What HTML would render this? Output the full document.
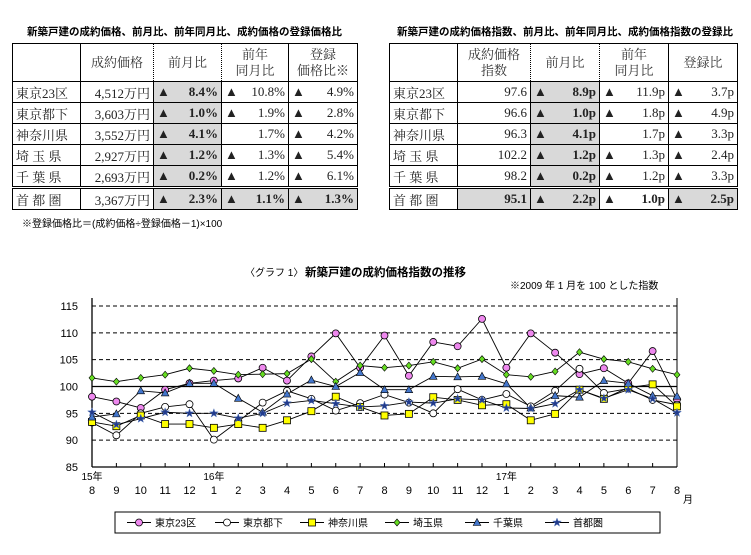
<!DOCTYPE html>
<html><head><meta charset="utf-8"><style>
body{margin:0;width:751px;height:555px;background:#fff;position:relative;overflow:hidden;font-family:"Liberation Serif","Noto Serif CJK SC","Noto Sans CJK JP",serif;}
.ttl{position:absolute;font-family:"Liberation Sans","Noto Sans CJK JP",sans-serif;font-weight:bold;font-size:10.5px;white-space:nowrap;}
table{position:absolute;border-collapse:collapse;table-layout:fixed;font-size:13px;color:#222;}
td{border:1px solid #000;height:20px;padding:0 3px;white-space:nowrap;overflow:hidden;}
tr.h td{height:37px;text-align:center;line-height:16px;color:#333;}
td.n{text-align:right;}
td.g{background:#d9d9d9;}
td.b{font-weight:bold;}
td.dl{border-left:1px dotted #000;}
td.dr{border-right:1px dotted #000;}
tr.tot td{border-top:3px double #000;}
.tri{float:left;}
.foot{position:absolute;left:22px;top:215px;font-size:10px;font-family:"Liberation Sans","Noto Sans CJK JP",sans-serif;}
</style></head><body>
<div class="ttl" style="left:27px;top:24px;">新築戸建の成約価格、前月比、前年同月比、成約価格の登録価格比</div>
<table style="left:12px;top:43px;width:346px;">
<colgroup><col style="width:68px"><col style="width:73px"><col style="width:68px"><col style="width:67px"><col style="width:69px"></colgroup>
<tr class="h"><td></td><td class="dr">成約価格</td><td class="dl dr">前月比</td><td class="dl">前年<br>同月比</td><td>登録<br>価格比※</td></tr>
<tr><td>東京23区</td><td class="n dr">4,512万円</td><td class="n g b dr"><span class="tri">▲</span>8.4%</td><td class="n"><span class="tri">▲</span>10.8%</td><td class="n"><span class="tri">▲</span>4.9%</td></tr>
<tr><td>東京都下</td><td class="n dr">3,603万円</td><td class="n g b dr"><span class="tri">▲</span>1.0%</td><td class="n"><span class="tri">▲</span>1.9%</td><td class="n"><span class="tri">▲</span>2.8%</td></tr>
<tr><td>神奈川県</td><td class="n dr">3,552万円</td><td class="n g b dr"><span class="tri">▲</span>4.1%</td><td class="n">1.7%</td><td class="n"><span class="tri">▲</span>4.2%</td></tr>
<tr><td>埼 玉 県</td><td class="n dr">2,927万円</td><td class="n g b dr"><span class="tri">▲</span>1.2%</td><td class="n"><span class="tri">▲</span>1.3%</td><td class="n"><span class="tri">▲</span>5.4%</td></tr>
<tr><td>千 葉 県</td><td class="n dr">2,693万円</td><td class="n g b dr"><span class="tri">▲</span>0.2%</td><td class="n"><span class="tri">▲</span>1.2%</td><td class="n"><span class="tri">▲</span>6.1%</td></tr>
<tr class="tot"><td>首 都 圏</td><td class="n dr">3,367万円</td><td class="n g b dr"><span class="tri">▲</span>2.3%</td><td class="n g b"><span class="tri">▲</span>1.1%</td><td class="n g b"><span class="tri">▲</span>1.3%</td></tr>
</table>
<div class="foot">※登録価格比＝(成約価格÷登録価格－1)×100</div>

<div class="ttl" style="left:397px;top:24px;">新築戸建の成約価格指数、前月比、前年同月比、成約価格指数の登録比</div>
<table style="left:389px;top:43px;width:349px;">
<colgroup><col style="width:68px"><col style="width:73px"><col style="width:69px"><col style="width:69px"><col style="width:69px"></colgroup>
<tr class="h"><td></td><td class="dr">成約価格<br>指数</td><td class="dl dr">前月比</td><td class="dl">前年<br>同月比</td><td>登録比</td></tr>
<tr><td>東京23区</td><td class="n dr">97.6</td><td class="n g b dr"><span class="tri">▲</span>8.9p</td><td class="n"><span class="tri">▲</span>11.9p</td><td class="n"><span class="tri">▲</span>3.7p</td></tr>
<tr><td>東京都下</td><td class="n dr">96.6</td><td class="n g b dr"><span class="tri">▲</span>1.0p</td><td class="n"><span class="tri">▲</span>1.8p</td><td class="n"><span class="tri">▲</span>4.9p</td></tr>
<tr><td>神奈川県</td><td class="n dr">96.3</td><td class="n g b dr"><span class="tri">▲</span>4.1p</td><td class="n">1.7p</td><td class="n"><span class="tri">▲</span>3.3p</td></tr>
<tr><td>埼 玉 県</td><td class="n dr">102.2</td><td class="n g b dr"><span class="tri">▲</span>1.2p</td><td class="n"><span class="tri">▲</span>1.3p</td><td class="n"><span class="tri">▲</span>2.4p</td></tr>
<tr><td>千 葉 県</td><td class="n dr">98.2</td><td class="n g b dr"><span class="tri">▲</span>0.2p</td><td class="n"><span class="tri">▲</span>1.2p</td><td class="n"><span class="tri">▲</span>3.3p</td></tr>
<tr class="tot"><td>首 都 圏</td><td class="n g b dr">95.1</td><td class="n g b dr"><span class="tri">▲</span>2.2p</td><td class="n b"><span class="tri">▲</span>1.0p</td><td class="n g b"><span class="tri">▲</span>2.5p</td></tr>
</table>

<svg id="chart" width="751" height="555" style="position:absolute;left:0;top:0;" font-family="Liberation Sans, Noto Sans CJK JP, sans-serif"></svg>
<script>
const months=["8","9","10","11","12","1","2","3","4","5","6","7","8","9","10","11","12","1","2","3","4","5","6","7","8"];
const yearLabels=[{i:0,t:"15年"},{i:5,t:"16年"},{i:17,t:"17年"}];
const yTicks=[85,90,95,100,105,110,115];
const seriesNames=["東京23区","東京都下","神奈川県","埼玉県","千葉県","首都圏"];
const tokyo23=[98.1,97.2,96.0,99.4,100.6,101.1,101.5,103.5,101.1,105.6,109.9,103.5,109.5,102.0,108.3,107.5,112.6,103.5,109.9,106.3,102.3,103.4,100.6,106.6,97.6];
const tokyoSuburb=[93.3,90.9,95.0,96.2,96.7,90.1,93.5,97.0,99.2,97.7,95.5,96.9,98.5,97.0,95.0,99.5,97.5,98.6,96.3,99.2,103.3,98.8,99.6,97.5,96.6];
const kanagawa=[93.4,92.6,94.6,93.0,93.0,92.3,93.0,92.3,93.7,95.4,98.1,96.2,94.6,94.9,98.0,97.5,96.5,96.7,93.7,94.9,99.4,97.7,99.8,100.4,96.3];
const saitama=[101.6,100.9,101.6,102.2,103.4,102.9,102.2,102.3,102.4,105.1,100.9,103.9,103.5,103.9,104.6,103.4,105.1,102.2,101.8,102.8,106.4,105.1,104.6,103.3,102.2];
const chiba=[94.3,94.9,99.2,98.8,100.6,100.6,97.8,95.2,98.6,101.2,100.0,102.6,99.4,99.4,101.9,101.8,101.9,100.5,96.0,98.3,98.0,101.1,100.6,98.3,98.2];
const metro=[95.2,92.9,94.0,95.2,95.0,95.0,94.1,95.0,96.9,97.4,96.8,96.2,96.4,97.1,96.9,97.7,97.5,96.0,95.9,96.8,99.4,97.8,99.4,97.7,95.1];
const allSeries=[tokyo23,tokyoSuburb,kanagawa,saitama,chiba,metro];
const markers=["circle","ocircle","square","diamond","triangle","star"];
const colors=["#ee88ee","#ffffff","#ffff00","#66dd22","#4477cc","#223b8c"];

const NS="http://www.w3.org/2000/svg";
const svg=document.getElementById('chart');
const X0=92,X1=677,Y0=467,Y1=306,YMIN=85,YMAX=115;
const xs=i=>X0+(X1-X0)*i/(months.length-1);
const ys=v=>Y0-(v-YMIN)/(YMAX-YMIN)*(Y0-Y1);
function mk(tag,a){const e=document.createElementNS(NS,tag);for(const k in a)e.setAttribute(k,a[k]);svg.appendChild(e);return e;}
function txt(x,y,t,a){const e=mk('text',Object.assign({x:x,y:y},a));e.textContent=t;return e;}

let e;
e=txt(245,276,"〈グラフ 1〉",{"font-size":"10"});


e=txt(305,276,"新築戸建の成約価格指数の推移",{"font-size":"11.5","font-weight":"bold"});


e=txt(510,289,"※2009 年 1 月を 100 とした指数",{"font-size":"10"});



yTicks.forEach(v=>{
  if(v!==YMIN){
    e=mk('line',{x1:X0,x2:X1,y1:ys(v),y2:ys(v),stroke:"#000","stroke-width":v===100?1.3:1,"stroke-dasharray":v===100?"":"4,3"});
    
    
  }
  e=txt(78,ys(v)+4,String(v),{"font-size":"11","text-anchor":"end"});
  
  
});
e=mk('line',{x1:X0,x2:X0,y1:Y1-8,y2:Y0,stroke:"#000","stroke-width":1.3});


e=mk('line',{x1:X1,x2:X1,y1:Y1-8,y2:Y0,stroke:"#000","stroke-width":1});


e=mk('line',{x1:X0,x2:X1,y1:Y0,y2:Y0,stroke:"#000","stroke-width":1.3});


months.forEach((m,i)=>{
  e=mk('line',{x1:xs(i),x2:xs(i),y1:Y0,y2:Y0-4,stroke:"#000"});
  
  
  e=txt(xs(i),494,m,{"font-size":"11","text-anchor":"middle"});
  
  
});
yearLabels.forEach(y=>{
  e=txt(xs(y.i),480,y.t,{"font-size":"10","text-anchor":"middle"});
  
  
});
e=txt(683,503,"月",{"font-size":"10"});



function marker(type,x,y,c){
  let m;
  if(type==="circle"||type==="ocircle") m=mk('circle',{cx:x,cy:y,r:3.5,fill:c,stroke:"#000","stroke-width":0.8});
  else if(type==="square") m=mk('rect',{x:x-3.5,y:y-3.5,width:7,height:7,fill:c,stroke:"#000","stroke-width":0.8});
  else if(type==="diamond") m=mk('path',{d:`M${x},${y-3.5}L${x+3},${y}L${x},${y+3.5}L${x-3},${y}Z`,fill:c,stroke:"#000","stroke-width":0.6});
  else if(type==="triangle") m=mk('path',{d:`M${x},${y-4}L${x+3.8},${y+3}L${x-3.8},${y+3}Z`,fill:c,stroke:"#000","stroke-width":0.6});
  else { let p="";for(let k=0;k<10;k++){const r=k%2?1.8:4.5,a=-Math.PI/2+k*Math.PI/5;p+=(k?"L":"M")+(x+r*Math.cos(a)).toFixed(1)+","+(y+r*Math.sin(a)).toFixed(1);} m=mk('path',{d:p+"Z",fill:c,stroke:"#5577bb","stroke-width":0.5}); }
  return m;
}
allSeries.forEach((s,si)=>{
  e=mk('polyline',{points:s.map((v,i)=>xs(i)+","+ys(v)).join(" "),fill:"none",stroke:"#000","stroke-width":0.9});
  
  
});
allSeries.forEach((s,si)=>{
  s.forEach((v,i)=>{
    e=marker(markers[si],xs(i),ys(v),colors[si]);
    
    
  });
});
e=mk('rect',{x:115,y:512,width:545,height:21,fill:"#fff",stroke:"#000","stroke-width":1});


const legX=[127,215,300,385,465,545];
seriesNames.forEach((n,si)=>{
  const lx=legX[si];
  e=mk('line',{x1:lx,x2:lx+24,y1:522.5,y2:522.5,stroke:"#000"});
  
  
  e=marker(markers[si],lx+12,522.5,colors[si]);
  
  
  e=txt(lx+28,526.5,n,{"font-size":"10"});
  
  
});
</script>
</body></html>
